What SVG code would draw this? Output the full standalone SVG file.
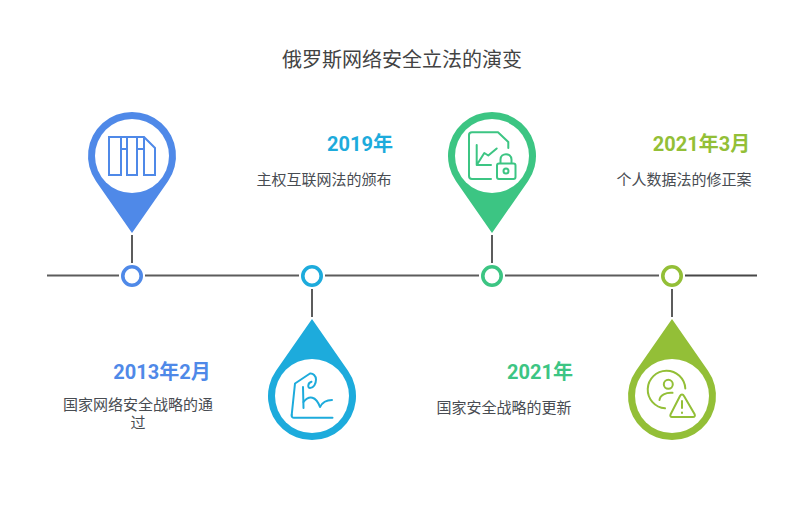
<svg xmlns="http://www.w3.org/2000/svg" width="804" height="516" viewBox="0 0 804 516">
<defs>
<style>
text{font-family:"Roboto","Noto Sans CJK SC",sans-serif}
.title{font-size:20px;fill:#434343;text-anchor:middle}
.year{font-size:20px;font-weight:700;text-anchor:middle}
.desc{font-size:15px;fill:#484c52;text-anchor:middle}
.line{stroke:#5c5c5c;stroke-width:2;fill:none}
.white{fill:#fff}
.ic{fill:none;stroke-width:2;stroke-linecap:round;stroke-linejoin:round}
.ring{fill:#fff;stroke-width:3.600}
</style>
</defs>
<rect width="804" height="516" fill="#fff"/>
<text class="title" x="402" y="67">俄罗斯网络安全立法的演变</text>
<g id="connectors">
<path class="line" d="M47 275.500H119M145 275.500H299M325 275.500H479M505 275.500H659"/>
<path class="line" stroke="#474747" style="stroke:#474747" d="M685 275.500H757"/>
<path class="line" d="M132 235V263M312 289V317M492 235V263M672 289V317"/>
</g>
<g id="node-1">
<path fill="#4f89e8" d="M132 233L96 181.200A44 44 0 1 1 168 181.200Z"/>
<circle class="white" cx="132" cy="156" r="37"/>
<path class="ic" stroke="#4f89e8" stroke-linejoin="miter" style="stroke-linejoin:miter;stroke-linecap:butt" d="M109 137H144L155 148V175H144V149H137V175H127V149H121V175H109ZM121 137V149M127 137V149M137 137V149M144 137V149"/>
<circle class="ring" cx="132" cy="276" r="9.200" stroke="#4f89e8"/>
<text class="year" x="162" y="379" fill="#4f89e8">2013年2月</text>
<text class="desc" x="138" y="410">国家网络安全战略的通</text>
<text class="desc" x="138" y="428">过</text>
</g>
<g id="node-2">
<path fill="#1dabdc" d="M312 319L276 370.800A44 44 0 1 0 348 370.800Z"/>
<circle class="white" cx="312" cy="396" r="37"/>
<g class="ic" stroke="#1dabdc">
<path d="M291.700 415L295 383.500L310 373.500C313 373 316 376 316 379.500C316 384 313.500 388 310 388C307.500 388 307.500 383 311.500 381.800"/>
<path d="M303 387L303.500 408"/>
<path d="M303.500 402C309 395 316 396 320 407C323 401 327 400 332 400"/>
<path d="M291.700 415C291.500 417 292.500 417.800 294 417.800H332.500"/>
</g>
<circle class="ring" cx="312" cy="276" r="9.200" stroke="#1dabdc"/>
<text class="year" x="360" y="151" fill="#1dabdc">2019年</text>
<text class="desc" x="324" y="185">主权互联网法的颁布</text>
</g>
<g id="node-3">
<path fill="#3cc583" d="M492 233L456 181.200A44 44 0 1 1 528 181.200Z"/>
<circle class="white" cx="492" cy="156" r="37"/>
<g class="ic" stroke="#3cc583">
<path d="M491 179H472C470 179 469 178 469 176V135C469 133 470 132.300 472 132.300H498L508.300 142V148"/>
<path d="M476.700 145V165H491M478 163L484.300 153L488.300 155.500L496.700 148.500"/>
<rect x="497" y="163.500" width="18.500" height="15.500" rx="2"/>
<path d="M500.500 163V159.500C500.500 152.500 511.500 152.500 511.500 159.500V163"/>
<circle cx="506" cy="171" r="2.500"/>
</g>
<circle class="ring" cx="492" cy="276" r="9.200" stroke="#3cc583"/>
<text class="year" x="540" y="379" fill="#3cc583">2021年</text>
<text class="desc" x="504" y="413">国家安全战略的更新</text>
</g>
<g id="node-4">
<path fill="#93bf37" d="M672 319L636 370.800A44 44 0 1 0 708 370.800Z"/>
<circle class="white" cx="672" cy="396" r="37"/>
<g class="ic" stroke="#93bf37">
<path d="M685.300 388.500A18.800 18.800 0 1 0 665 408.300"/>
<circle cx="668.300" cy="384.300" r="4.500"/>
<path d="M659.500 400C660 395 666 392.300 672.500 392.800"/>
<path d="M670.500 414.500L680 396C681 394 683 394 684 396L694.500 414C695.500 416 694.500 417 693 417H672C670.500 417 670 416 670.500 414.500Z"/>
<path d="M682 401V408M682 412.500V413"/>
</g>
<circle class="ring" cx="672" cy="276" r="9.200" stroke="#93bf37"/>
<text class="year" x="701.500" y="151" fill="#93bf37">2021年3月</text>
<text class="desc" x="684" y="185">个人数据法的修正案</text>
</g>
</svg>
